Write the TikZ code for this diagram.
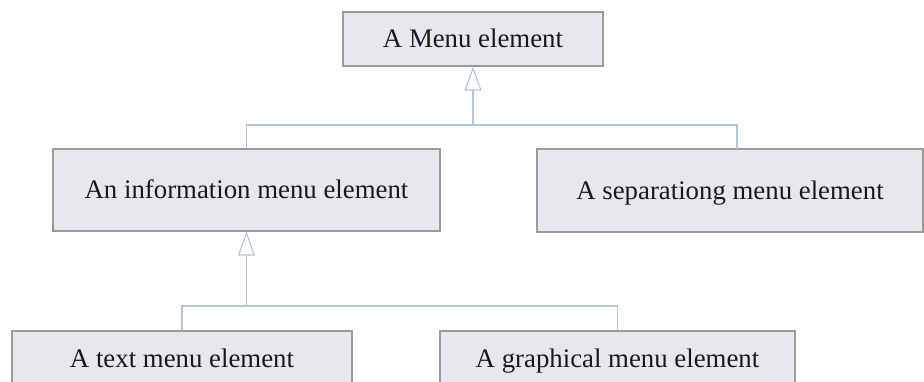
\documentclass[tikz,border=0pt]{standalone}
\usepackage{fontspec}
\setmainfont{Liberation Serif}
\usetikzlibrary{arrows.meta}
\definecolor{boxfill}{HTML}{E6E8EC}
\definecolor{boxline}{HTML}{9A9A9A}
\definecolor{linkcol}{HTML}{B4C6DA}
\tikzset{
  elem/.style={draw=boxline, fill=boxfill, line width=1.1pt, inner sep=0pt,
    text height=21pt, text depth=3pt,
    font=\rmfamily\fontsize{26.8}{32}\selectfont, text=black!90},
  conn/.style={draw=linkcol, line width=1.1pt},
  inherit/.style={conn, -{Triangle[open, length=24pt, width=17pt, fill=white]}}
}
\begin{document}
\begin{tikzpicture}[x=1pt, y=-1pt]
  \clip (0,0) rectangle (924,382);
  \useasboundingbox (0,0) rectangle (924,382);
  \fill[white] (0,0) rectangle (924,382);

  % class boxes
  \node[elem, minimum width=260pt, minimum height=54pt] (menu) at (473,39) {A Menu element};
  \node[elem, minimum width=387pt, minimum height=82pt] (info) at (246.5,190) {An information menu element};
  \node[elem, minimum width=386pt, minimum height=83pt] (sep) at (730,190.5) {A separationg menu element};
  \node[elem, minimum width=340pt, minimum height=54pt] (txt) at (182,358) {A text menu element};
  \node[elem, minimum width=355pt, minimum height=54pt] (gfx) at (617.5,358) {A graphical menu element};

  % junction points of the inheritance trees
  \coordinate (j1) at (473,125);
  \coordinate (sepin) at (737,149);
  \coordinate (j2) at (246.5,306);

  % first level
  \draw[inherit] (j1) -- (menu.south);
  \draw[conn] (info.north) |- (j1) -| (sepin);

  % second level
  \draw[inherit] (j2) -- (info.south);
  \draw[conn] (txt.north) |- (j2) -| (gfx.north);
\end{tikzpicture}
\end{document}
